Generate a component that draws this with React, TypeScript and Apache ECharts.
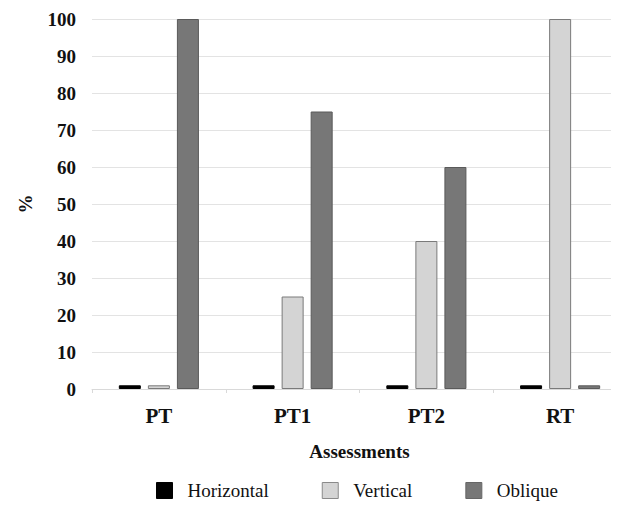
import React, { useEffect, useRef } from "react";
import * as echarts from "echarts";

const categories = ["PT", "PT1", "PT2", "RT"];
const horizontal = [1, 1, 1, 1];
const vertical = [1, 25, 40, 100];
const oblique = [100, 75, 60, 1];

const FONT = "'Liberation Serif', 'Times New Roman', serif";

export default function App() {
  const ref = useRef<HTMLDivElement>(null);
  useEffect(() => {
    if (!ref.current) return;
    const chart = echarts.init(ref.current, null, { renderer: "svg" });
    chart.setOption({
      animation: false,
      backgroundColor: "#ffffff",
      textStyle: { fontFamily: FONT },
      grid: { left: 78, top: 11, width: 546, height: 370, containLabel: false },
      legend: {
        top: 468,
        left: 143,
        icon: "rect",
        itemWidth: 16,
        itemHeight: 16,
        itemGap: 53,
        textStyle: { fontFamily: FONT, fontSize: 19, color: "#111", padding: [0, 0, 0, 10] },
        data: [
          { name: "Horizontal", itemStyle: { color: "#000000", borderColor: "#000000", borderWidth: 1 } },
          { name: "Vertical", itemStyle: { color: "#d4d4d4", borderColor: "#8a8a8a", borderWidth: 1 } },
          { name: "Oblique", itemStyle: { color: "#777777", borderColor: "#666666", borderWidth: 1 } },
        ],
      },
      xAxis: {
        type: "category",
        data: categories,
        name: "Assessments",
        nameLocation: "middle",
        nameGap: 53,
        nameTextStyle: { fontFamily: FONT, fontSize: 19, fontWeight: "bold", color: "#111" },
        axisLine: { show: true, lineStyle: { color: "#d9d9d9" } },
        axisTick: { show: true, length: 4, lineStyle: { color: "#d9d9d9" } },
        axisLabel: { fontFamily: FONT, fontSize: 21, fontWeight: "bold", color: "#111", margin: 16 },
      },
      yAxis: {
        type: "value",
        min: 0,
        max: 100,
        interval: 10,
        name: "%",
        nameLocation: "middle",
        nameGap: 57,
        nameRotate: 90,
        nameTextStyle: { fontFamily: FONT, fontSize: 19, fontWeight: "bold", color: "#111" },
        axisLine: { show: false },
        axisTick: { show: false },
        axisLabel: { fontFamily: FONT, fontSize: 19, fontWeight: "bold", color: "#111", margin: 16 },
        splitLine: { lineStyle: { color: "#e3e3e3" } },
      },
      series: [
        {
          name: "Horizontal",
          type: "bar",
          data: horizontal,
          barWidth: 22,
          barGap: "32%",
          itemStyle: { color: "#000000", borderColor: "#000000", borderWidth: 1 },
        },
        {
          name: "Vertical",
          type: "bar",
          data: vertical,
          barWidth: 22,
          barGap: "32%",
          itemStyle: { color: "#d4d4d4", borderColor: "#7a7a7a", borderWidth: 1 },
        },
        {
          name: "Oblique",
          type: "bar",
          data: oblique,
          barWidth: 22,
          barGap: "32%",
          itemStyle: { color: "#777777", borderColor: "#5a5a5a", borderWidth: 1 },
        },
      ],
    });
    return () => chart.dispose();
  }, []);
  return <div ref={ref} style={{ width: 619, height: 508 }} />;
}
